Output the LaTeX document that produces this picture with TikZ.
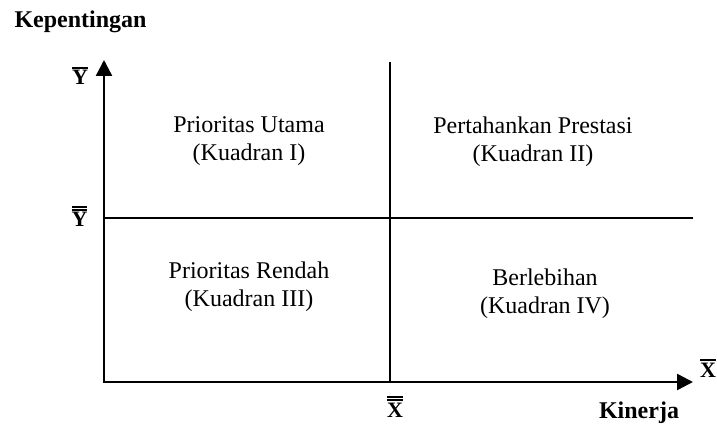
\documentclass[tikz,border=0pt]{standalone}
\usepackage{fontspec}
\setmainfont{Liberation Serif}
\usetikzlibrary{arrows.meta}
\newcommand\sbarlab[1]{\vbox{\hrule height 1.4pt\kern1.8pt\hbox{#1}}}
\newcommand\dbarlab[1]{\vbox{\hrule height 1.4pt\kern1.6pt\hrule height 1.4pt\kern1.8pt\hbox{#1}}}
\begin{document}
\begin{tikzpicture}[x=1pt,y=-1pt,
  axis/.style={line width=2.4pt,-{Triangle[length=16pt,width=16pt]}},
  divline/.style={line width=2.2pt},
  qtext/.style={font=\fontsize{24}{28}\selectfont,align=center},
  btext/.style={font=\fontsize{24}{28}\selectfont\bfseries},
  lab/.style={font=\fontsize{22}{24}\selectfont\bfseries,inner sep=0pt}]
\useasboundingbox (0,0) rectangle (717,430);
\coordinate (O) at (104,382);
\coordinate (ytop) at (104,60);
\coordinate (xend) at (693,382);
\coordinate (vtop) at (390,62);
\coordinate (vbot) at (390,382);
\coordinate (hl) at (104,218);
\coordinate (hr) at (693,218);
\draw[divline] (vtop) -- (vbot);
\draw[divline] (hl) -- (hr);
\draw[axis] (O) -- (ytop);
\draw[axis] ([xshift=-1.2pt]O) -- (xend);
\node[btext,anchor=west] (kep) at (11,22) {Kepentingan};
\node[btext] (kin) at (639,413) {Kinerja};
\node[lab,anchor=base] (ybar) at (80,85) {\sbarlab{Y}};
\node[lab,anchor=base] (ybb) at (79.5,227) {\dbarlab{Y}};
\node[lab,anchor=base] (xbb) at (395,417) {\dbarlab{X}};
\node[lab,anchor=base] (xbar) at (708,377) {\sbarlab{X}};
\node[qtext] (q1) at (249,141) {Prioritas Utama\\(Kuadran I)};
\node[qtext] (q2) at (533,142) {Pertahankan Prestasi\\(Kuadran II)};
\node[qtext] (q3) at (249,287) {Prioritas Rendah\\(Kuadran III)};
\node[qtext] (q4) at (545,294) {Berlebihan\\(Kuadran IV)};
\end{tikzpicture}
\end{document}
